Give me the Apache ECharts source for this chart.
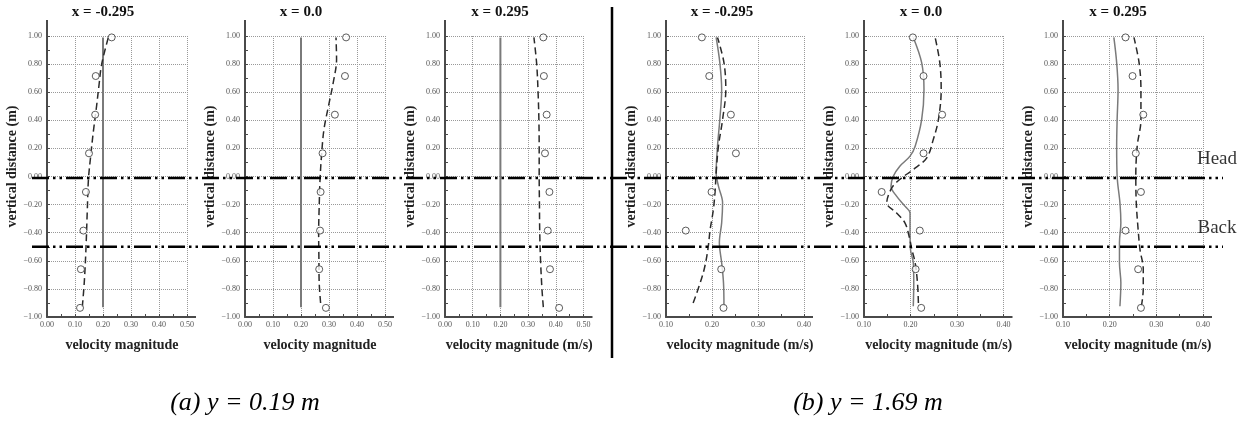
<!DOCTYPE html>
<html><head><meta charset="utf-8">
<script src="https://cdn.jsdelivr.net/npm/echarts@6.0.0/dist/echarts.min.js"></script>
<style>html,body{margin:0;padding:0;background:#fff}#c{width:1256px;height:427px}</style>
</head><body><div id="c"></div>
<script>
// ---------------- DATA ----------------
const panelTitles = ['x = -0.295', 'x = 0.0', 'x = 0.295', 'x = -0.295', 'x = 0.0', 'x = 0.295'];
const xAxisNames = ['velocity magnitude', 'velocity magnitude', 'velocity magnitude (m/s)',
  'velocity magnitude (m/s)', 'velocity magnitude (m/s)', 'velocity magnitude (m/s)'];
const yAxisName = 'vertical distance (m)';
const caseLabels = ['(a) y = 0.19 m', '(b) y = 1.69 m'];
const refLineNames = ['Head', 'Back'];
const refLineLevels = [-0.01, -0.5];
const xRangeA = [0, 0.5];
const xRangeB = [0.1, 0.4];
const yRange = [-1, 1];

// measured (circles): vertical positions shared by all panels
const measuredY = [0.99, 0.715, 0.44, 0.165, -0.11, -0.385, -0.66, -0.935];
const measuredA1 = [0.231, 0.174, 0.172, 0.150, 0.139, 0.130, 0.121, 0.118];
const measuredA2 = [0.361, 0.357, 0.321, 0.277, 0.270, 0.268, 0.265, 0.289];
const measuredA3 = [0.355, 0.357, 0.367, 0.361, 0.377, 0.371, 0.379, 0.412];
const measuredB1 = [0.178, 0.194, 0.241, 0.252, 0.199, 0.143, 0.220, 0.225];
const measuredB2 = [0.205, 0.228, 0.268, 0.228, 0.138, 0.220, 0.211, 0.223];
const measuredB3 = [0.234, 0.249, 0.272, 0.256, 0.267, 0.234, 0.261, 0.267];

// solid curves [velocity, vertical]
const solidA1 = [[0.2, -0.93], [0.2, 0.99]];
const solidA2 = [[0.2, -0.93], [0.2, 0.99]];
const solidA3 = [[0.2, -0.93], [0.2, 0.99]];
const solidB1 = [[0.226, -0.923], [0.225, -0.757], [0.221, -0.614], [0.216, -0.47], [0.221, -0.33], [0.223, -0.187],
  [0.214, -0.069], [0.209, 0.026], [0.212, 0.216], [0.217, 0.405], [0.221, 0.62], [0.217, 0.81], [0.209, 0.99]];
const solidB2 = [[0.206, -0.923], [0.207, -0.757], [0.206, -0.614], [0.200, -0.52], [0.199, -0.377], [0.199, -0.259],
  [0.188, -0.211], [0.170, -0.14], [0.158, -0.069], [0.163, 0.002], [0.177, 0.073], [0.199, 0.145], [0.210, 0.216],
  [0.224, 0.405], [0.229, 0.62], [0.224, 0.81], [0.206, 0.99]];
const solidB3 = [[0.222, -0.923], [0.224, -0.757], [0.221, -0.614], [0.221, -0.47], [0.224, -0.33], [0.222, -0.187],
  [0.216, 0.002], [0.215, 0.216], [0.216, 0.405], [0.218, 0.62], [0.215, 0.81], [0.209, 0.99]];

// dashed curves [velocity, vertical]
const dashA1 = [[0.126, -0.93], [0.133, -0.757], [0.139, -0.52], [0.144, -0.235], [0.148, -0.02], [0.156, 0.145],
  [0.165, 0.311], [0.177, 0.5], [0.186, 0.655], [0.195, 0.797], [0.219, 0.99]];
const dashA2 = [[0.270, -0.9], [0.265, -0.757], [0.264, -0.59], [0.263, -0.4], [0.265, -0.211], [0.268, -0.02],
  [0.274, 0.169], [0.282, 0.335], [0.298, 0.5], [0.315, 0.667], [0.327, 0.833], [0.325, 0.99]];
const dashA3 = [[0.355, -0.93], [0.350, -0.8], [0.345, -0.6], [0.342, -0.4], [0.341, -0.2], [0.340, 0.0],
  [0.340, 0.2], [0.339, 0.4], [0.336, 0.6], [0.331, 0.8], [0.321, 0.99]];
const dashB1 = [[0.159, -0.9], [0.172, -0.78], [0.183, -0.66], [0.191, -0.52], [0.196, -0.377], [0.203, -0.235],
  [0.207, -0.09], [0.209, 0.026], [0.214, 0.216], [0.223, 0.405], [0.230, 0.62], [0.226, 0.81], [0.212, 0.99]];
const dashB2 = [[0.217, -0.9], [0.215, -0.757], [0.210, -0.614], [0.203, -0.52], [0.197, -0.425], [0.188, -0.33],
  [0.170, -0.259], [0.149, -0.187], [0.160, -0.08], [0.177, -0.021], [0.206, 0.05], [0.235, 0.133], [0.249, 0.263],
  [0.260, 0.405], [0.266, 0.62], [0.263, 0.81], [0.253, 0.99]];
const dashB3 = [[0.268, -0.923], [0.272, -0.8], [0.272, -0.66], [0.265, -0.52], [0.261, -0.377], [0.257, -0.187],
  [0.256, 0.002], [0.259, 0.216], [0.267, 0.405], [0.267, 0.62], [0.263, 0.81], [0.252, 0.99]];

// ---------------- LAYOUT / STYLE ----------------
const SERIF = '"Liberation Serif", "DejaVu Serif", serif';
const panelLeft = [47, 245, 445, 666, 864, 1063];
const panelWidth = [140, 140, 138.5, 138, 139.5, 140];
const panelTop = 36, panelHeight = 281;
const titleCenterX = [103, 301, 500, 722, 921, 1118];
const caseCenterX = [245, 868];

const measuredX = [measuredA1, measuredA2, measuredA3, measuredB1, measuredB2, measuredB3];
const solids = [solidA1, solidA2, solidA3, solidB1, solidB2, solidB3];
const dashes = [dashA1, dashA2, dashA3, dashB1, dashB2, dashB3];

const fmt = v => v.toFixed(2).replace('-', '\u2212');

const grids = [], xAxes = [], yAxes = [], series = [];
for (let i = 0; i < 6; i++) {
  const xr = i < 3 ? xRangeA : xRangeB;
  grids.push({ left: panelLeft[i], top: panelTop, width: panelWidth[i], height: panelHeight, containLabel: false });
  const axisLine = { show: true, onZero: false, lineStyle: { color: '#4a4a4a', width: 2 } };
  xAxes.push({
    type: 'value', gridIndex: i, min: xr[0], max: xr[1], interval: 0.1,
    axisLine: Object.assign({}, axisLine, { symbol: ['none', 'rect'], symbolSize: [2, 18] }),
    axisTick: { show: true, inside: true, length: 3, lineStyle: { color: '#4a4a4a' } },
    minorTick: { show: true, splitNumber: 2, length: 3, lineStyle: { color: '#4a4a4a' } },
    axisLabel: { formatter: fmt, fontSize: 8, color: '#555', margin: 4, fontFamily: SERIF },
    splitLine: { show: true, lineStyle: { color: '#999', type: 'dotted', width: 1 } },
    name: xAxisNames[i], nameLocation: 'middle', nameGap: 21,
    nameTextStyle: { fontFamily: SERIF, fontWeight: 'bold', fontSize: 14, color: '#222', padding: [0, 0, 0, 10] }
  });
  yAxes.push({
    type: 'value', gridIndex: i, min: yRange[0], max: yRange[1], interval: 0.2,
    axisLine: Object.assign({}, axisLine, { symbol: ['none', 'rect'], symbolSize: [2, 32] }),
    axisTick: { show: true, inside: true, length: 3, lineStyle: { color: '#4a4a4a' } },
    minorTick: { show: true, splitNumber: 2, length: 3, lineStyle: { color: '#4a4a4a' } },
    axisLabel: { formatter: fmt, fontSize: 8, color: '#555', margin: 5, fontFamily: SERIF },
    splitLine: { show: true, lineStyle: { color: '#999', type: 'dotted', width: 1 } },
    name: yAxisName, nameLocation: 'middle', nameGap: 19,
    nameTextStyle: { fontFamily: SERIF, fontWeight: 'bold', fontSize: 14, color: '#222', padding: [0, 0, 0, 20] }
  });
  series.push({
    type: 'line', xAxisIndex: i, yAxisIndex: i, data: solids[i], showSymbol: false, symbol: 'none',
    smooth: i < 3 ? false : 0.35, lineStyle: { color: '#7a7a7a', width: i < 3 ? 2 : 1.5 }, z: 3, silent: true
  });
  series.push({
    type: 'line', xAxisIndex: i, yAxisIndex: i, data: dashes[i], showSymbol: false, symbol: 'none',
    smooth: 0.35, lineStyle: { color: '#2a2a2a', width: 1.5, type: [7, 4] }, z: 3, silent: true
  });
  series.push({
    type: 'scatter', xAxisIndex: i, yAxisIndex: i,
    data: measuredX[i].map((v, k) => [v, measuredY[k]]),
    symbol: 'circle', symbolSize: 7,
    itemStyle: { color: '#fff', borderColor: '#333', borderWidth: 1 }, z: 4, silent: true
  });
}

// overlay grid for the Head / Back reference lines
grids.push({ left: 32, top: panelTop, width: 1191, height: panelHeight });
xAxes.push({ type: 'value', gridIndex: 6, min: 0, max: 1, show: false });
yAxes.push({ type: 'value', gridIndex: 6, min: yRange[0], max: yRange[1], show: false });
refLineLevels.forEach((lv, k) => {
  series.push({
    type: 'line', xAxisIndex: 6, yAxisIndex: 6, data: [[0, lv], [1, lv]], symbol: 'none',
    lineStyle: { color: '#000', width: 2.5, type: [17, 4, 2.5, 4, 2.5, 4] }, z: 10, silent: true
  });
  series.push({
    type: 'scatter', xAxisIndex: 6, yAxisIndex: 6, data: [[1, lv]], symbol: 'circle', symbolSize: 1,
    itemStyle: { color: 'rgba(0,0,0,0)' }, z: 10, silent: true,
    label: { show: true, position: 'top', distance: 9, offset: [-6, 0], formatter: refLineNames[k],
      fontFamily: SERIF, fontSize: 19, color: '#000' }
  });
});

const graphic = [];
panelTitles.forEach((t, i) => graphic.push({
  type: 'text', x: titleCenterX[i], y: 12,
  style: { text: t, fontFamily: SERIF, fontWeight: 'bold', fontSize: 15, fill: '#111', align: 'center', verticalAlign: 'middle' }
}));
caseLabels.forEach((t, i) => graphic.push({
  type: 'text', x: caseCenterX[i], y: 403,
  style: { text: t, fontFamily: SERIF, fontStyle: 'italic', fontSize: 26, fill: '#000', align: 'center', verticalAlign: 'middle' }
}));
graphic.push({ type: 'line', shape: { x1: 612, y1: 7, x2: 612, y2: 358 }, style: { stroke: '#000', lineWidth: 2.5 } });

const chart = echarts.init(document.getElementById('c'), null, { renderer: 'canvas' });
chart.setOption({
  backgroundColor: '#fff', animation: false,
  grid: grids, xAxis: xAxes, yAxis: yAxes, series: series, graphic: graphic
});
</script></body></html>
